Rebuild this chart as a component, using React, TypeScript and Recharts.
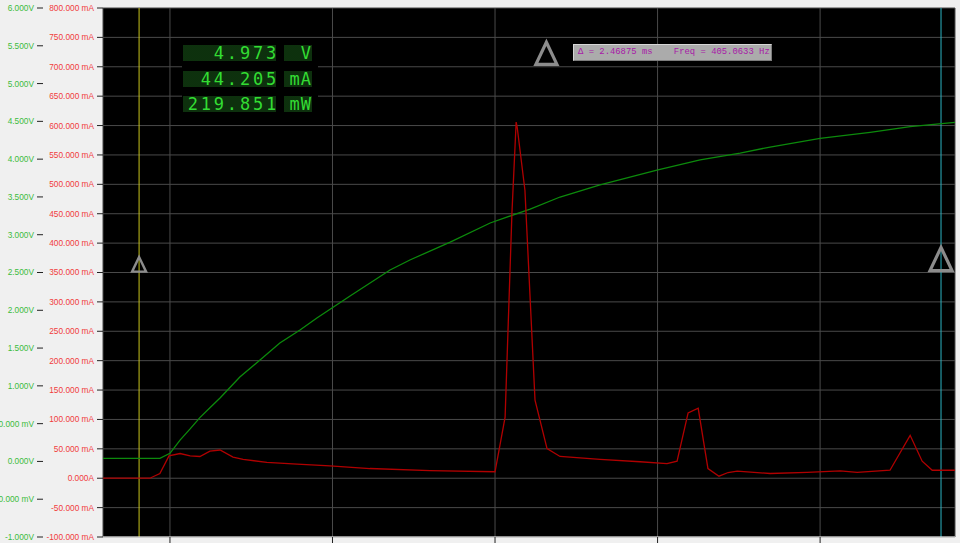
import React from 'react';
import {
  LineChart,
  Line,
  XAxis,
  YAxis,
  CartesianGrid,
  ReferenceLine,
  ReferenceDot,
} from 'recharts';

// time in ms, voltage in V
const voltTime = [-0.206, -0.031, 0, 0.031, 0.062, 0.092, 0.123, 0.154, 0.215, 0.277, 0.338, 0.4, 0.452, 0.554, 0.677, 0.738, 0.862, 0.985, 1.108, 1.2, 1.323, 1.498, 1.631, 1.754, 1.846, 2.0, 2.154, 2.277, 2.415];
const voltValues = [0.041, 0.041, 0.107, 0.283, 0.43, 0.58, 0.71, 0.84, 1.117, 1.342, 1.568, 1.739, 1.898, 2.189, 2.533, 2.665, 2.903, 3.155, 3.34, 3.499, 3.658, 3.856, 3.989, 4.081, 4.16, 4.276, 4.355, 4.429, 4.487];

// time in ms, current in mA
const currTime = [-0.206, -0.062, -0.031, -0.003, 0.031, 0.062, 0.092, 0.123, 0.154, 0.194, 0.225, 0.298, 0.391, 0.492, 0.615, 0.8, 1.0, 1.031, 1.052, 1.065, 1.068, 1.092, 1.123, 1.16, 1.2, 1.323, 1.446, 1.529, 1.56, 1.594, 1.625, 1.655, 1.689, 1.717, 1.745, 1.846, 1.96, 2.062, 2.114, 2.215, 2.277, 2.314, 2.345, 2.415];
const currValues = [0, 0, 8, 38, 42, 38, 37, 46, 48, 36, 32, 27, 24, 21, 16.5, 13, 11, 104, 451, 606, 598, 490, 133, 50.5, 37, 32, 28, 25, 29, 111, 119, 16.5, 3.4, 9.7, 12, 8, 10, 12.4, 10, 13.6, 73, 29, 13.6, 13.6];

const timeTicks = [0, 0.5, 1, 1.5, 2];
const currTicks = [-100, -50, 0, 50, 100, 150, 200, 250, 300, 350, 400, 450, 500, 550, 600, 650, 700, 750, 800];
const voltTicks = [-1, -0.5, 0, 0.5, 1, 1.5, 2, 2.5, 3, 3.5, 4, 4.5, 5, 5.5, 6];

const cursorA = -0.095;
const cursorB = 2.372;

const readoutValues = ['4.973', '44.205', '219.851'];
const readoutUnits = ['V', 'mA', 'mW'];
const deltaText = 'Δ = 2.46875 ms    Freq = 405.0633 Hz';

const voltData = voltTime.map((t, i) => ({ t, v: voltValues[i] }));
const currData = currTime.map((t, i) => ({ t, i: currValues[i] }));

const fmtCurr = (v: number) => (v === 0 ? '0.000A' : `${v.toFixed(3)} mA`);
const fmtVolt = (v: number) =>
  v !== 0 && Math.abs(v) < 1 ? `${(v * 1000).toFixed(3)} mV` : `${v.toFixed(3)}V`;

const AxisTick = (fmt: (v: number) => string, color: string) => (props: any) => {
  const { x, y, payload } = props;
  return (
    <text
      x={x - 1}
      y={y}
      dy="0.36em"
      textAnchor="end"
      fill={color}
      fontFamily="Liberation Sans"
      fontSize={8.3}
    >
      {fmt(payload.value)}
    </text>
  );
};

const Triangle = (size: number) => (props: any) => {
  const { cx, cy } = props;
  const h = size * 1.05;
  return (
    <path
      d={`M${cx},${cy - h / 2} L${cx + size / 2},${cy + h / 2} L${cx - size / 2},${cy + h / 2} Z`}
      fill="none"
      stroke="#8c8c8c"
      strokeWidth={size > 16 ? 3.2 : 2.4}
    />
  );
};

const dots = {
  backgroundColor: '#071807',
  backgroundImage: 'radial-gradient(circle, #154a15 45%, transparent 55%)',
  backgroundSize: '2px 2px',
};

const rowTops = [45, 71, 96];

export default function App() {
  return (
    <div style={{ position: 'absolute', left: 0, top: 0, width: 960, height: 543, background: '#f0f0f0', overflow: 'hidden' }}>
      <LineChart width={960} height={543} margin={{ top: 8, right: 5, bottom: 0, left: 0 }}>
        <CartesianGrid
          xAxisId="t"
          yAxisId="i"
          fill="#000"
          stroke="#4a4a4a"
          strokeWidth={1}
        />
        <XAxis
          xAxisId="t"
          dataKey="t"
          type="number"
          domain={[-0.206, 2.415]}
          allowDataOverflow
          ticks={timeTicks}
          height={6}
          tick={() => <g />}
          tickSize={6}
          tickLine={{ stroke: '#222' }}
          axisLine={{ stroke: '#fff' }}
        />
        <YAxis
          yAxisId="i"
          type="number"
          domain={[-100, 800]}
          allowDataOverflow
          ticks={currTicks}
          interval={0}
          width={60}
          tickSize={6}
          tick={AxisTick(fmtCurr, '#f03c3c')}
          tickLine={{ stroke: '#222' }}
          axisLine={false}
        />
        <YAxis
          yAxisId="v"
          type="number"
          domain={[-1, 6]}
          allowDataOverflow
          ticks={voltTicks}
          interval={0}
          width={43}
          tickSize={6}
          tick={AxisTick(fmtVolt, '#3cbc3c')}
          tickLine={{ stroke: '#222' }}
          axisLine={false}
        />
        <ReferenceLine xAxisId="t" yAxisId="i" x={cursorA} stroke="#c8c41c" strokeWidth={1} />
        <ReferenceLine xAxisId="t" yAxisId="i" x={cursorB} stroke="#2cb4c4" strokeWidth={1} />
        <Line
          xAxisId="t"
          yAxisId="v"
          data={voltData}
          dataKey="v"
          type="linear"
          stroke="#0c8a0c"
          strokeWidth={1.3}
          dot={false}
          isAnimationActive={false}
        />
        <Line
          xAxisId="t"
          yAxisId="i"
          data={currData}
          dataKey="i"
          type="linear"
          stroke="#b00000"
          strokeWidth={1.3}
          dot={false}
          isAnimationActive={false}
        />
        <ReferenceDot xAxisId="t" yAxisId="i" x={cursorA} y={364} r={7} shape={Triangle(14)} />
        <ReferenceDot xAxisId="t" yAxisId="i" x={cursorB} y={373} r={11} shape={Triangle(22)} />
        <ReferenceDot xAxisId="t" yAxisId="i" x={1.158} y={723} r={11} shape={Triangle(21)} />
      </LineChart>

      {/* readout panel */}
      <div style={{ position: 'absolute', left: 182, top: 41, width: 136, height: 75, background: '#000' }} />
      {readoutValues.map((val, k) => (
        <React.Fragment key={k}>
          <div
            style={{
              position: 'absolute', left: 183, top: rowTops[k], width: 93, height: 16, ...dots,
              color: '#33dd33', fontFamily: 'DejaVu Sans Mono', fontSize: 17, lineHeight: '16px',
              textAlign: 'right', letterSpacing: 2.8, whiteSpace: 'pre',
            }}
          >
            <span style={{ marginRight: -3 }}>{val}</span>
          </div>
          <div
            style={{
              position: 'absolute', left: 284, top: rowTops[k], width: 28, height: 16, ...dots,
              color: '#33dd33', fontFamily: 'DejaVu Sans Mono', fontSize: 17, lineHeight: '16px',
              textAlign: 'right', letterSpacing: 1, whiteSpace: 'pre',
            }}
          >
            {readoutUnits[k]}
          </div>
        </React.Fragment>
      ))}

      {/* delta box */}
      <div
        style={{
          position: 'absolute', left: 573, top: 44, width: 193, height: 15, background: '#ababab',
          borderTop: '1px solid #d6d6d6', borderLeft: '1px solid #d6d6d6',
          borderBottom: '1px solid #7c7c7c', borderRight: '1px solid #7c7c7c',
          color: '#a818a8', fontFamily: 'Liberation Mono', fontSize: 8.9, lineHeight: '15px',
          whiteSpace: 'pre', overflow: 'hidden', paddingLeft: 4, boxSizing: 'content-box',
        }}
      >
        {deltaText}
      </div>
    </div>
  );
}
